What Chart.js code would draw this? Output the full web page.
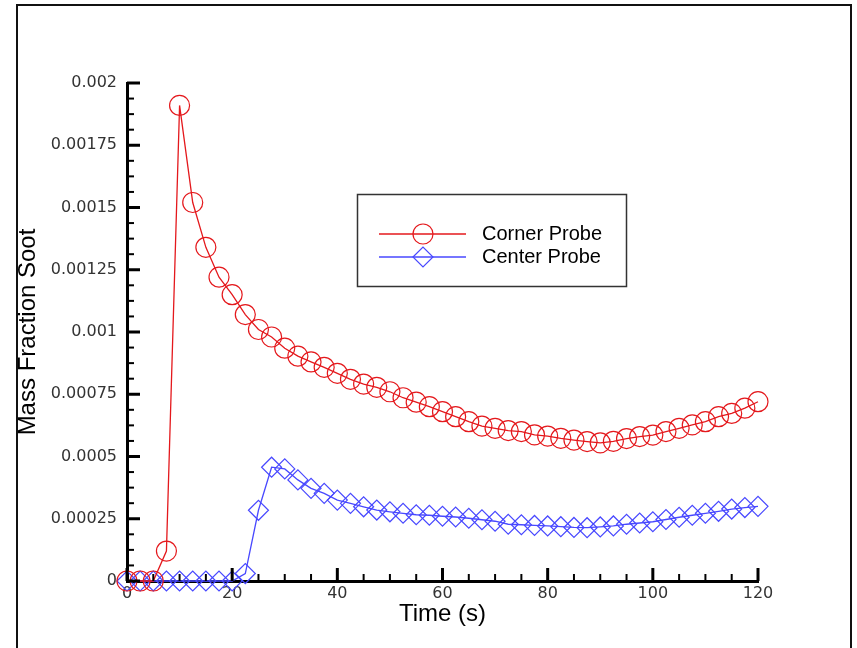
<!DOCTYPE html>
<html>
<head>
<meta charset="utf-8">
<title>Mass Fraction Soot</title>
<script src="https://cdn.jsdelivr.net/npm/chart.js@4.4.1/dist/chart.umd.min.js"></script>
<style>
  html, body { margin: 0; padding: 0; background: #fff; }
  #wrap { width: 857px; height: 648px; }
</style>
</head>
<body>
<div id="wrap"><canvas id="sootChart" width="857" height="648"></canvas></div>
<script>
// probe samples, every 2.5 s
const times = [
  0, 2.5, 5, 7.5, 10, 12.5, 15, 17.5, 20, 22.5, 25, 27.5, 30, 32.5, 35, 37.5, 40,
  42.5, 45, 47.5, 50, 52.5, 55, 57.5, 60, 62.5, 65, 67.5, 70, 72.5, 75, 77.5, 80,
  82.5, 85, 87.5, 90, 92.5, 95, 97.5, 100, 102.5, 105, 107.5, 110, 112.5, 115, 117.5, 120
];
const cornerProbe = [
  0, 0, 0, 0.00012, 0.00191, 0.00152, 0.00134, 0.00122, 0.00115, 0.00107, 0.00101, 0.00098, 0.000935,
  0.000903, 0.00088, 0.000858, 0.000834, 0.00081, 0.000791, 0.000778, 0.00076, 0.000736, 0.000718,
  0.0007, 0.00068, 0.00066, 0.00064, 0.000622, 0.000613, 0.000604, 0.0006, 0.000587, 0.000582,
  0.000573, 0.000566, 0.00056, 0.000555, 0.000561, 0.000572, 0.00058, 0.000586, 0.0006, 0.000613,
  0.000627, 0.00064, 0.00066, 0.000673, 0.000694, 0.00072
];
const centerProbe = [
  0, 0, 0, 0, 0, 0, 0, 0, 0, 0.00003, 0.000284, 0.000457, 0.00045,
  0.000406, 0.000372, 0.000352, 0.000325, 0.000312, 0.000298, 0.000285, 0.000278, 0.000272, 0.000266,
  0.000264, 0.00026, 0.000257, 0.000252, 0.000246, 0.00024, 0.000228, 0.000226, 0.000223, 0.000221,
  0.000218, 0.000215, 0.000214, 0.000217, 0.000221, 0.000228, 0.000233, 0.000238, 0.000247, 0.000256,
  0.000264, 0.000272, 0.00028, 0.000289, 0.000295, 0.0003
];
const seriesNames = ['Corner Probe', 'Center Probe'];
const xTicks = [0, 20, 40, 60, 80, 100, 120];
const yTicks = [0, 0.00025, 0.0005, 0.00075, 0.001, 0.00125, 0.0015, 0.00175, 0.002];
const yTickLabels = ['0', '0.00025', '0.0005', '0.00075', '0.001', '0.00125', '0.0015', '0.00175', '0.002'];

const RED = 'rgb(228, 24, 28)';
const BLUE = 'rgb(72, 72, 255)';

// outer frame
const frame = {
  id: 'frame',
  beforeDraw(chart) {
    const c = chart.ctx;
    c.save();
    c.strokeStyle = '#111';
    c.lineWidth = 2;
    c.strokeRect(17, 5, 834, 700);
    c.restore();
  }
};

// tick marks pointing into the plot, 3 minor ticks between majors
const innerTicks = {
  id: 'innerTicks',
  afterDraw(chart) {
    const { ctx: c, chartArea: a, scales: { x, y } } = chart;
    c.save();
    c.strokeStyle = '#000';
    const seg = (x1, y1, x2, y2, w) => {
      c.lineWidth = w;
      c.beginPath();
      c.moveTo(x1, y1);
      c.lineTo(x2, y2);
      c.stroke();
    };
    yTicks.forEach((v, i) => {
      const py = y.getPixelForValue(v);
      seg(a.left, py, a.left + 13, py, 3);
      if (i < yTicks.length - 1) {
        const d = (yTicks[i + 1] - v) / 4;
        for (let k = 1; k < 4; k++) {
          const my = y.getPixelForValue(v + k * d);
          seg(a.left, my, a.left + 7, my, 2);
        }
      }
    });
    xTicks.forEach((v, i) => {
      const px = x.getPixelForValue(v);
      seg(px, a.bottom, px, a.bottom - 13, 3);
      if (i < xTicks.length - 1) {
        const d = (xTicks[i + 1] - v) / 4;
        for (let k = 1; k < 4; k++) {
          const mx = x.getPixelForValue(v + k * d);
          seg(mx, a.bottom, mx, a.bottom - 7, 2);
        }
      }
    });
    c.restore();
  }
};

// boxed legend inside the plot
const boxLegend = {
  id: 'boxLegend',
  afterDraw(chart) {
    const c = chart.ctx;
    c.save();
    c.strokeStyle = '#333';
    c.lineWidth = 1.5;
    c.strokeRect(357.5, 194.5, 269, 92);
    const rows = [234, 257];
    chart.data.datasets.forEach((ds, i) => {
      const ly = rows[i];
      c.strokeStyle = ds.borderColor;
      c.lineWidth = ds.borderWidth;
      c.beginPath();
      c.moveTo(379, ly);
      c.lineTo(466, ly);
      c.stroke();
      c.fillStyle = 'rgba(0,0,0,0)';
      c.lineWidth = ds.pointBorderWidth;
      Chart.helpers.drawPoint(c, {
        pointStyle: ds.pointStyle, radius: ds.pointRadius, rotation: 0, borderWidth: ds.pointBorderWidth
      }, 423, ly);
      c.fillStyle = '#000';
      c.font = '20px "Liberation Sans", Arial, sans-serif';
      c.textBaseline = 'middle';
      c.textAlign = 'left';
      c.fillText(ds.label, 482, ly);
    });
    c.restore();
  }
};

const tickFont = { family: '"DejaVu Sans", sans-serif', size: 16 };
const titleFont = { family: '"Liberation Sans", Arial, sans-serif', size: 24 };

new Chart(document.getElementById('sootChart'), {
  type: 'line',
  data: {
    datasets: [
      {
        label: seriesNames[0],
        data: times.map((t, i) => ({ x: t, y: cornerProbe[i] })),
        borderColor: RED,
        borderWidth: 1.3,
        pointStyle: 'circle',
        pointRadius: 10,
        pointBorderWidth: 1.2,
        pointBorderColor: RED,
        pointBackgroundColor: 'rgba(0,0,0,0)',
        tension: 0,
        clip: false
      },
      {
        label: seriesNames[1],
        data: times.map((t, i) => ({ x: t, y: centerProbe[i] })),
        borderColor: BLUE,
        borderWidth: 1.3,
        pointStyle: 'rectRot',
        pointRadius: 10,
        pointBorderWidth: 1.2,
        pointBorderColor: BLUE,
        pointBackgroundColor: 'rgba(0,0,0,0)',
        tension: 0,
        clip: false
      }
    ]
  },
  options: {
    responsive: false,
    animation: false,
    layout: { padding: { left: 12, top: 83, right: 99, bottom: 16 } },
    plugins: {
      legend: { display: false },
      tooltip: { enabled: false }
    },
    scales: {
      x: {
        type: 'linear',
        min: 0,
        max: 120,
        afterBuildTicks: s => { s.ticks = xTicks.map(v => ({ value: v })); },
        afterFit: s => { s.height = 51; },
        grid: { display: false, drawTicks: false },
        border: { display: true, color: '#000', width: 3 },
        ticks: { padding: 3, color: '#333', font: tickFont, maxRotation: 0, autoSkip: false },
        title: { display: true, text: 'Time (s)', color: '#000', font: titleFont, padding: { top: 0, bottom: 3 } }
      },
      y: {
        type: 'linear',
        min: 0,
        max: 0.002,
        afterBuildTicks: s => { s.ticks = yTicks.map(v => ({ value: v })); },
        afterFit: s => { s.width = 115; },
        grid: { display: false, drawTicks: false },
        border: { display: true, color: '#000', width: 3 },
        ticks: { padding: 10, color: '#333', font: tickFont, autoSkip: false, callback: (v, i) => yTickLabels[i] },
        title: { display: true, text: 'Mass Fraction Soot', color: '#000', font: titleFont, padding: { top: 2, bottom: 0 } }
      }
    }
  },
  plugins: [frame, innerTicks, boxLegend]
});
</script>
</body>
</html>
